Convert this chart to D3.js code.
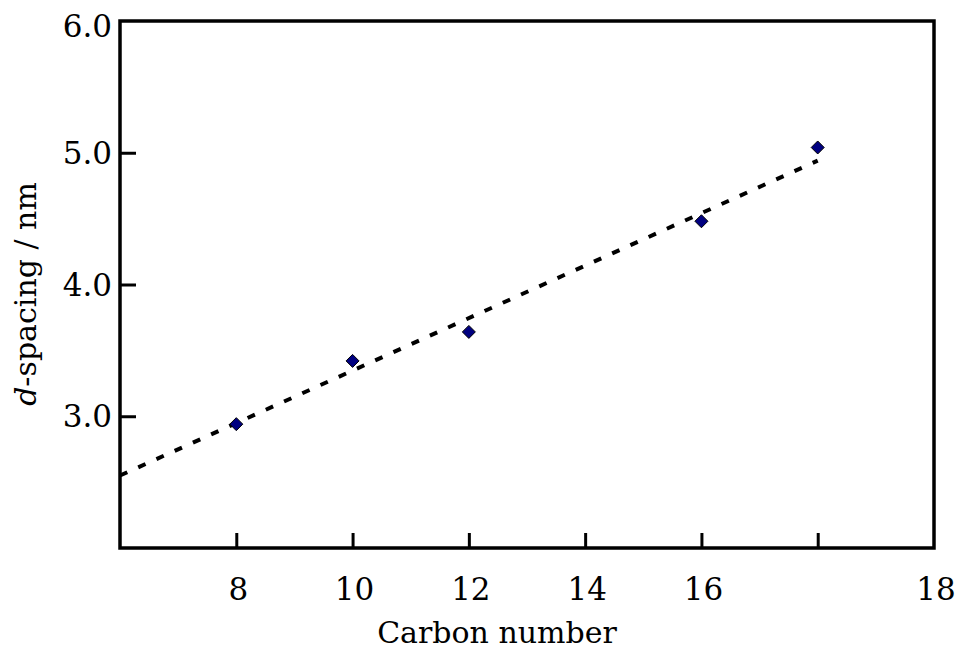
<!DOCTYPE html>
<html>
<head>
<meta charset="utf-8">
<script src="https://cdn.jsdelivr.net/npm/d3@7/dist/d3.min.js"></script>
<style>
  html, body { margin: 0; padding: 0; background: #ffffff; }
  svg { display: block; }
  text { font-family: "DejaVu Serif", "Liberation Serif", serif; fill: #000; }
</style>
</head>
<body>
<svg id="chart" width="961" height="655"></svg>
<script>
// ---- data ----
const carbonNumber = [8, 10, 12, 16, 18];
const dSpacing = [2.94, 3.42, 3.64, 4.48, 5.04];

// dashed trend line (end points)
const trendX = [6, 18];
const trendY = [2.55, 4.94];

// axis ticks
const xTickMarks = [8, 10, 12, 14, 16, 18];
const xLabelValues = [8, 10, 12, 14, 16, 20];
const xLabelTexts = ["8", "10", "12", "14", "16", "18"];
const yTickMarks = [3, 4, 5];
const yLabelValues = [3, 4, 5, 6];
const yLabelTexts = ["3.0", "4.0", "5.0", "6.0"];

const xDomain = [6, 20];
const yDomain = [2, 6];

// ---- layout ----
const M = { left: 120, right: 934, top: 21, bottom: 548 };
const svg = d3.select("#chart");

const x = d3.scaleLinear().domain(xDomain).range([M.left, M.right]);
const y = d3.scaleLinear().domain(yDomain).range([M.bottom, M.top]);

// inward tick marks via d3 axes
const xAxis = d3.axisTop(x).tickValues(xTickMarks).tickSize(15).tickFormat("");
svg.append("g")
  .attr("transform", `translate(0,${M.bottom})`)
  .call(xAxis)
  .call(g => g.select(".domain").remove())
  .call(g => g.selectAll("line").attr("stroke", "#000").attr("stroke-width", 3));

const yAxis = d3.axisRight(y).tickValues(yTickMarks).tickSize(16).tickFormat("");
svg.append("g")
  .attr("transform", `translate(${M.left},0)`)
  .call(yAxis)
  .call(g => g.select(".domain").remove())
  .call(g => g.selectAll("line").attr("stroke", "#000").attr("stroke-width", 3));

// frame
svg.append("rect")
  .attr("x", M.left).attr("y", M.top)
  .attr("width", M.right - M.left).attr("height", M.bottom - M.top)
  .attr("fill", "none").attr("stroke", "#000").attr("stroke-width", 3.5);

// tick labels
svg.append("g").selectAll("text")
  .data(xLabelValues)
  .join("text")
  .attr("x", d => x(d) + 2)
  .attr("y", 600)
  .attr("text-anchor", "middle")
  .attr("font-size", 31)
  .text((d, i) => xLabelTexts[i]);

svg.append("g").selectAll("text")
  .data(yLabelValues)
  .join("text")
  .attr("x", 112)
  .attr("y", d => Math.max(y(d) + 11, 37))
  .attr("text-anchor", "end")
  .attr("font-size", 31)
  .text((d, i) => yLabelTexts[i]);

// axis titles
svg.append("text")
  .attr("x", 497).attr("y", 643)
  .attr("text-anchor", "middle")
  .attr("font-size", 30)
  .text("Carbon number");

const yt = svg.append("text")
  .attr("transform", "translate(36,294) rotate(-90)")
  .attr("text-anchor", "middle")
  .attr("font-size", 30);
yt.append("tspan").attr("font-style", "italic").text("d");
yt.append("tspan").text("-spacing / nm");

// trend line
const line = d3.line().x(d => x(d[0])).y(d => y(d[1]));
svg.append("path")
  .datum(trendX.map((v, i) => [v, trendY[i]]))
  .attr("d", line)
  .attr("fill", "none")
  .attr("stroke", "#000")
  .attr("stroke-width", 4)
  .attr("stroke-dasharray", "8,12");

// diamond markers
const r = 6.5;
svg.append("g").selectAll("path")
  .data(carbonNumber.map((c, i) => [c, dSpacing[i]]))
  .join("path")
  .attr("d", d => {
    const cx = x(d[0]), cy = y(d[1]);
    return `M${cx},${cy - r}L${cx + r},${cy}L${cx},${cy + r}L${cx - r},${cy}Z`;
  })
  .attr("fill", "#000080")
  .attr("stroke", "#000")
  .attr("stroke-width", 1);
</script>
</body>
</html>
